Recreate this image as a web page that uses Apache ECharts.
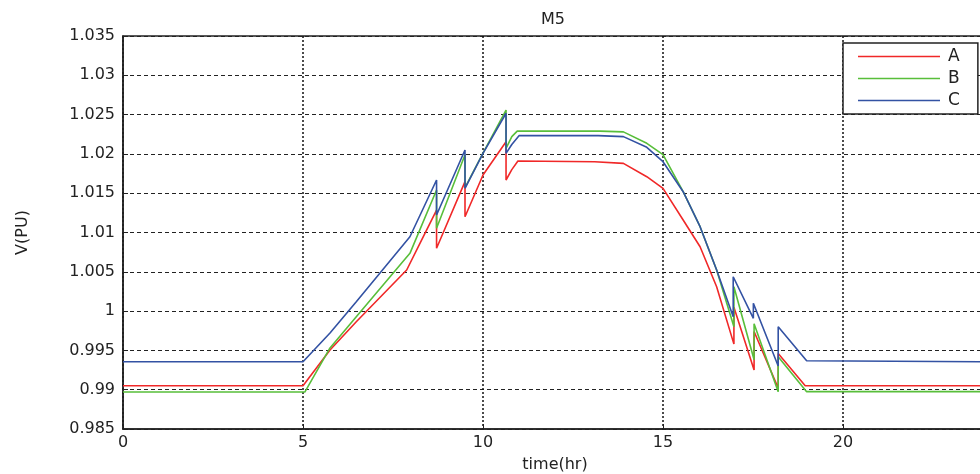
<!DOCTYPE html>
<html>
<head>
<meta charset="utf-8">
<script src="https://cdn.jsdelivr.net/npm/echarts@6/dist/echarts.min.js"></script>
<style>html,body{margin:0;padding:0;background:#fff}#c{width:980px;height:474px}</style>
</head>
<body>
<div id="c"></div>
<script>
var seriesNames = ['A', 'B', 'C'];
var seriesColors = ['#f02828', '#58be3a', '#3352a3'];

var timeA = [0, 5.0, 5.75, 6.48, 7.88, 8.29, 8.71, 8.71, 9.5, 9.5, 10.0, 10.64, 10.64, 10.8, 10.97, 13.1, 13.9, 14.55, 15.0, 15.56, 16.03, 16.49, 16.97, 16.97, 17.53, 17.53, 18.2, 18.2, 18.95, 24];
var voltA = [0.9905, 0.9905, 0.99505, 0.99865, 1.00523, 1.0090, 1.01286, 1.0080, 1.01647, 1.0120, 1.01732, 1.02155, 1.01668, 1.0180, 1.0191, 1.0190, 1.0188, 1.0171, 1.01562, 1.01159, 1.00819, 1.0031, 0.9958, 1.0005, 0.9925, 0.9974, 0.9902, 0.9946, 0.9905, 0.9905];

var timeB = [0, 5.05, 5.75, 6.48, 7.97, 8.71, 8.71, 9.5, 9.5, 10.0, 10.64, 10.64, 10.8, 10.95, 13.25, 13.9, 14.55, 15.0, 15.56, 16.03, 16.49, 16.97, 16.97, 17.53, 17.53, 18.2, 18.2, 18.99, 24];
var voltB = [0.9897, 0.9897, 0.99531, 0.99929, 1.00735, 1.01541, 1.01053, 1.0199, 1.0157, 1.0201, 1.02558, 1.0207, 1.0222, 1.0229, 1.0229, 1.0228, 1.02135, 1.0199, 1.0152, 1.01074, 1.00523, 0.9980, 1.0031, 0.9938, 0.9984, 0.98975, 0.9942, 0.98975, 0.98975];

var timeC = [0, 5.0, 5.75, 6.48, 7.97, 8.71, 8.71, 9.5, 9.5, 10.0, 10.64, 10.64, 10.8, 11.0, 13.2, 13.9, 14.55, 15.0, 15.56, 16.03, 16.49, 16.95, 16.95, 17.51, 17.51, 18.2, 18.2, 18.99, 24];
var voltC = [0.99356, 0.99356, 0.99722, 1.00119, 1.00946, 1.01668, 1.01222, 1.0205, 1.01562, 1.02007, 1.02517, 1.02007, 1.0212, 1.02232, 1.02232, 1.0222, 1.02084, 1.01901, 1.01519, 1.01074, 1.00523, 0.99929, 1.00437, 0.99908, 1.00099, 0.99302, 0.99802, 0.99369, 0.99356];

var chartTitle = 'M5';
var xName = 'time(hr)';
var yName = 'V(PU)';

function pairs(t, v) {
  var out = [];
  for (var i = 0; i < t.length; i++) out.push([t[i], v[i]]);
  return out;
}
var allTimes = [timeA, timeB, timeC];
var allVolts = [voltA, voltB, voltC];

var font = 'DejaVu Sans, Liberation Sans, Arial, sans-serif';
var chart = echarts.init(document.getElementById('c'), null, {renderer: 'canvas'});
chart.setOption({
  animation: false,
  backgroundColor: '#fff',
  title: {
    text: chartTitle,
    left: 541,
    top: 12,
    padding: 0,
    textStyle: {fontFamily: font, fontSize: 16, fontWeight: 'normal', color: '#222'}
  },
  legend: {
    orient: 'vertical',
    left: 843,
    top: 43,
    padding: [5, 18, 5, 15],
    icon: 'rect',
    itemWidth: 82,
    itemHeight: 1.5,
    itemGap: 5,
    backgroundColor: '#fff',
    borderColor: '#222',
    borderWidth: 1.5,
    borderRadius: 0,
    textStyle: {fontFamily: font, fontSize: 17, color: '#222', padding: [0, 0, 0, 3]},
    data: seriesNames
  },
  grid: {
    left: 123, top: 36, right: -7, bottom: 45,
    outerBoundsMode: 'none',
    show: true, borderColor: '#222', borderWidth: 1.5, backgroundColor: 'transparent',
    containLabel: false
  },
  xAxis: {
    type: 'value', min: 0, max: 24, interval: 5,
    name: xName, nameLocation: 'middle', nameGap: 28,
    nameTextStyle: {fontFamily: font, fontSize: 16, color: '#222'},
    axisLine: {show: true, lineStyle: {color: '#222', width: 1.5}},
    axisTick: {show: true, inside: true, length: 5, lineStyle: {color: '#222'}},
    axisLabel: {fontFamily: font, fontSize: 16, color: '#222', margin: 6, showMaxLabel: false},
    splitLine: {show: true, lineStyle: {color: '#111', width: 1.5, type: [2, 2]}}
  },
  yAxis: {
    type: 'value', min: 0.985, max: 1.035, interval: 0.005,
    name: yName, nameLocation: 'middle', nameGap: 92, nameRotate: 90,
    nameTextStyle: {fontFamily: font, fontSize: 16, color: '#222'},
    axisLine: {show: true, lineStyle: {color: '#222', width: 1.5}},
    axisTick: {show: true, inside: true, length: 5, lineStyle: {color: '#222'}},
    axisLabel: {fontFamily: font, fontSize: 16, color: '#222', margin: 8},
    splitLine: {show: true, lineStyle: {color: '#222', width: 1, type: [4, 3]}}
  },
  series: seriesNames.map(function (n, i) {
    return {
      name: n,
      type: 'line',
      showSymbol: false,
      symbol: 'none',
      color: seriesColors[i],
      lineStyle: {width: 1.6, color: seriesColors[i]},
      data: pairs(allTimes[i], allVolts[i])
    };
  })
});
</script>
</body>
</html>
